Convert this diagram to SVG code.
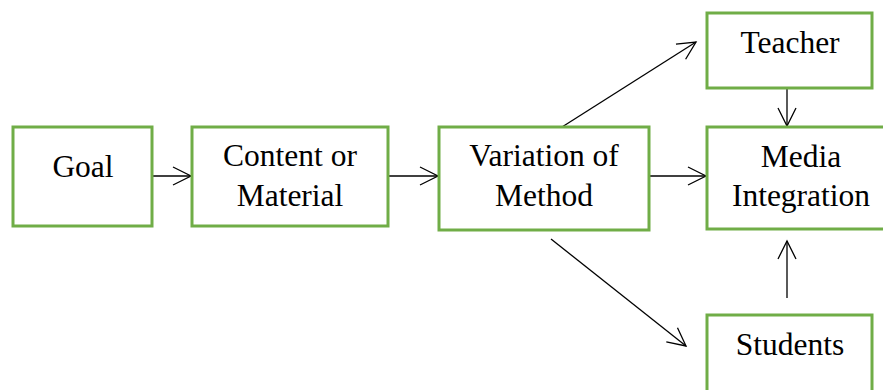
<svg xmlns="http://www.w3.org/2000/svg" width="883" height="390" viewBox="0 0 883 390">
<style>
.box{fill:#fff;stroke:#70AD47;stroke-width:3}
.t{font-family:"Liberation Serif","Times New Roman",serif;font-size:31.5px;fill:#000;text-anchor:middle}
.c{stroke:#000;stroke-width:1.3;fill:none;marker-end:url(#ah)}
</style>
<defs>
<marker id="ah" markerUnits="userSpaceOnUse" markerWidth="22" markerHeight="22" viewBox="-19 -11 22 22" refX="0" refY="0" orient="auto">
<path d="M-18,-9 L0,0 L-18,9" fill="none" stroke="#000" stroke-width="1.3"/>
</marker>
</defs>
<rect width="883" height="390" fill="#fff"/>
<g id="connectors">
<line class="c" x1="153" y1="176" x2="191" y2="176"/>
<line class="c" x1="388" y1="176" x2="438" y2="176"/>
<line class="c" x1="649" y1="176" x2="706" y2="176"/>
<line class="c" x1="787" y1="88" x2="787" y2="126"/>
<line class="c" x1="787" y1="298" x2="787" y2="241"/>
<line class="c" x1="562" y1="127" x2="696" y2="42"/>
<line class="c" x1="551" y1="239" x2="686" y2="346"/>
</g>
<g id="goal"><rect class="box" x="13" y="127" width="139" height="99"/><text class="t" x="83" y="177">Goal</text></g>
<g id="content"><rect class="box" x="192" y="127" width="196" height="99"/><text class="t" x="290" y="166">Content or</text><text class="t" x="290" y="206">Material</text></g>
<g id="variation"><rect class="box" x="439" y="127" width="210" height="103"/><text class="t" x="544" y="166">Variation of</text><text class="t" x="544" y="206">Method</text></g>
<g id="teacher"><rect class="box" x="707" y="13" width="165" height="75"/><text class="t" x="790" y="53">Teacher</text></g>
<g id="media"><rect class="box" x="707" y="127" width="188" height="102"/><text class="t" x="801" y="167">Media</text><text class="t" x="801" y="206">Integration</text></g>
<g id="students"><rect class="box" x="707" y="315" width="165" height="90"/><text class="t" x="790" y="355">Students</text></g>
</svg>
